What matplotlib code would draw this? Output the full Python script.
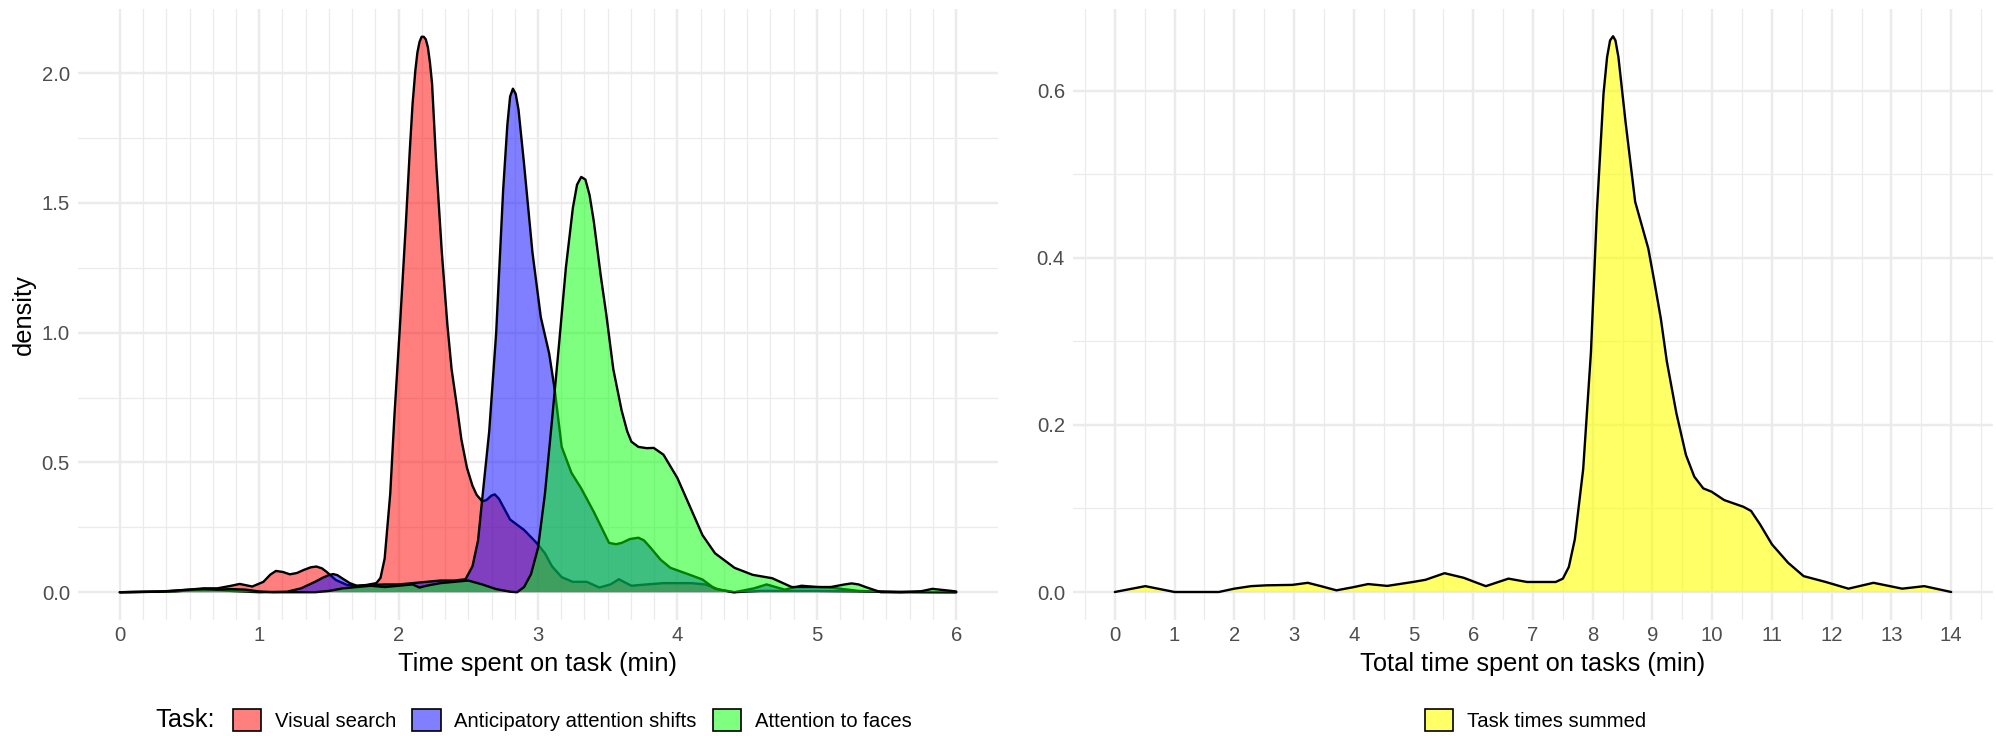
import matplotlib
matplotlib.use("Agg")
import matplotlib.pyplot as plt
from matplotlib.patches import Patch

plt.rcParams['font.family'] = ['Liberation Sans', 'DejaVu Sans']

# ---------------- data ----------------
tasks = ["Visual search", "Anticipatory attention shifts", "Attention to faces"]
task_colors = [(1, 0, 0, 0.5), (0, 0, 1, 0.5), (0, 1, 0, 0.5)]

vs_x = [0, 0.3, 0.5, 0.6, 0.7, 0.8, 0.86, 0.95, 1.03, 1.08, 1.12, 1.17, 1.22, 1.27, 1.32,
        1.37, 1.41, 1.45, 1.48, 1.55, 1.63, 1.70, 1.77, 1.84, 1.87, 1.90, 1.94, 1.97, 2.01,
        2.05, 2.08, 2.10, 2.12, 2.135, 2.15, 2.165, 2.18, 2.195, 2.21, 2.225, 2.24, 2.27,
        2.31, 2.35, 2.38, 2.42, 2.45, 2.49, 2.53, 2.56, 2.60, 2.63, 2.665, 2.69, 2.72,
        2.75, 2.80, 2.90, 2.99, 3.05, 3.10, 3.17, 3.25, 3.35, 3.44, 3.52, 3.58, 3.67, 3.78,
        3.90, 4.00, 4.10, 4.20, 4.30, 4.40, 4.60, 5.00, 5.50, 6.00]
vs_y = [0, 0.003, 0.01, 0.015, 0.015, 0.025, 0.032, 0.022, 0.04, 0.068, 0.082, 0.078,
        0.069, 0.074, 0.086, 0.096, 0.099, 0.092, 0.08, 0.047, 0.028, 0.024, 0.028, 0.035,
        0.055, 0.13, 0.38, 0.68, 1.03, 1.40, 1.70, 1.88, 2.01, 2.08, 2.12, 2.14, 2.14,
        2.13, 2.10, 2.04, 1.96, 1.65, 1.31, 1.03, 0.86, 0.71, 0.59, 0.48, 0.41, 0.375,
        0.35, 0.355, 0.372, 0.377, 0.36, 0.33, 0.28, 0.24, 0.19, 0.15, 0.10, 0.058, 0.04,
        0.04, 0.018, 0.03, 0.05, 0.025, 0.03, 0.035, 0.035, 0.035, 0.03, 0.01, 0.0, 0.005,
        0.005, 0.002, 0.0]

aas_x = [0, 0.4, 0.55, 0.65, 0.8, 1.0, 1.2, 1.3, 1.4, 1.46, 1.5, 1.53, 1.56, 1.6, 1.65,
         1.7, 1.8, 1.9, 2.0, 2.1, 2.2, 2.3, 2.4, 2.48, 2.53, 2.57, 2.60, 2.65, 2.70, 2.75,
         2.78, 2.80, 2.82, 2.84, 2.86, 2.90, 2.96, 3.02, 3.08, 3.12, 3.17, 3.24, 3.31, 3.40,
         3.51, 3.56, 3.60, 3.66, 3.72, 3.76, 3.81, 3.88, 3.95, 4.09, 4.18, 4.27, 4.41, 4.55,
         4.64, 4.77, 4.89, 5.0, 5.1, 5.3, 5.6, 6.0]
aas_y = [0, 0.003, 0.01, 0.012, 0.005, 0.0, 0.002, 0.015, 0.04, 0.057, 0.066, 0.07, 0.066,
         0.052, 0.035, 0.025, 0.028, 0.03, 0.03, 0.035, 0.04, 0.045, 0.045, 0.05, 0.10,
         0.20, 0.36, 0.62, 1.0, 1.55, 1.80, 1.91, 1.94, 1.92, 1.86, 1.65, 1.31, 1.06, 0.92,
         0.78, 0.56, 0.46, 0.40, 0.31, 0.19, 0.185, 0.19, 0.205, 0.21, 0.20, 0.17, 0.125,
         0.094, 0.067, 0.049, 0.013, 0.0, 0.015, 0.03, 0.01, 0.025, 0.02, 0.018, 0.005,
         0.0, 0.0]

af_x = [0, 0.3, 0.5, 0.6, 0.7, 0.8, 0.9, 1.0, 1.1, 1.4, 1.5, 1.6, 1.7, 1.8, 1.9, 2.0, 2.1,
        2.15, 2.2, 2.3, 2.4, 2.5, 2.6, 2.7, 2.8, 2.85, 2.9, 2.95, 3.0, 3.05, 3.1, 3.15, 3.2,
        3.25, 3.28, 3.31, 3.34, 3.37, 3.40, 3.45, 3.49, 3.54, 3.60, 3.64, 3.67, 3.72, 3.78,
        3.83, 3.90, 4.0, 4.09, 4.18, 4.27, 4.41, 4.54, 4.68, 4.82, 4.95, 5.1, 5.2, 5.25,
        5.3, 5.35, 5.46, 5.6, 5.75, 5.83, 5.95, 6.0]
af_y = [0, 0.002, 0.01, 0.012, 0.01, 0.012, 0.01, 0.003, 0.0, 0.0, 0.005, 0.015, 0.02,
        0.025, 0.02, 0.025, 0.03, 0.018, 0.025, 0.035, 0.04, 0.045, 0.03, 0.012, 0.002,
        0.0, 0.02, 0.07, 0.17, 0.38, 0.66, 0.95, 1.25, 1.48, 1.57, 1.60, 1.59, 1.53, 1.43,
        1.22, 1.07, 0.86, 0.70, 0.62, 0.58, 0.56, 0.555, 0.556, 0.53, 0.44, 0.33, 0.22,
        0.15, 0.094, 0.067, 0.054, 0.02, 0.02, 0.02, 0.03, 0.034, 0.03, 0.02, 0.0, 0.0,
        0.004, 0.013, 0.006, 0.003]

sum_label = "Task times summed"
sum_color = (1, 1, 0, 0.6)
sum_x = [0, 0.51, 1.0, 1.48, 1.74, 2.0, 2.28, 2.54, 2.97, 3.23, 3.45, 3.71, 3.98, 4.24, 4.56,
         4.99, 5.2, 5.52, 5.84, 6.21, 6.59, 6.9, 7.38, 7.5, 7.6, 7.7, 7.84, 7.97, 8.07, 8.18,
         8.24, 8.29, 8.34, 8.38, 8.43, 8.55, 8.71, 8.93, 9.03, 9.14, 9.24, 9.4, 9.56, 9.7,
         9.85, 9.99, 10.2, 10.52, 10.65, 10.8, 11.0, 11.27, 11.53, 11.9, 12.28, 12.7, 13.18,
         13.55, 14.0]
sum_y = [0, 0.007, 0.0, 0.0, 0.0, 0.004, 0.007, 0.008, 0.0085, 0.011, 0.007, 0.002, 0.0056,
         0.0095, 0.0073, 0.012, 0.0146, 0.0225, 0.017, 0.007, 0.016, 0.012, 0.012, 0.016,
         0.03, 0.063, 0.147, 0.287, 0.456, 0.596, 0.64, 0.66, 0.665, 0.66, 0.64, 0.562,
         0.467, 0.411, 0.372, 0.327, 0.276, 0.214, 0.164, 0.138, 0.124, 0.12, 0.11, 0.102,
         0.097, 0.081, 0.057, 0.035, 0.019, 0.012, 0.004, 0.011, 0.004, 0.007, 0.0]

left_xticks = [0, 1, 2, 3, 4, 5, 6]
left_yticks = [0.0, 0.5, 1.0, 1.5, 2.0]
right_xticks = list(range(0, 15))
right_yticks = [0.0, 0.2, 0.4, 0.6]

# ---------------- figure ----------------
W, H = 1996, 736
fig = plt.figure(figsize=(W / 100, H / 100), dpi=100)
ax1 = fig.add_axes([78 / W, (H - 620) / H, 920 / W, 611 / H])
ax2 = fig.add_axes([1073 / W, (H - 620) / H, 920 / W, 611 / H])

TICK_FS = 14.6
TITLE_FS = 18.3
GRID = '#EBEBEB'
LW = 1.7


def style(ax, xmaj, xmin, ymaj, ymin, xlim, ylim):
    ax.set_xlim(*xlim)
    ax.set_ylim(*ylim)
    ax.set_xticks(xmaj)
    ax.set_xticks(xmin, minor=True)
    ax.set_yticks(ymaj)
    ax.set_yticks(ymin, minor=True)
    ax.set_yticklabels([f"{v:.1f}" for v in ymaj])
    ax.set_xticklabels([str(v) for v in xmaj])
    ax.grid(which='major', color=GRID, lw=1.75)
    ax.grid(which='minor', color=GRID, lw=0.9)
    ax.set_axisbelow(True)
    for s in ax.spines.values():
        s.set_visible(False)
    ax.tick_params(which='both', length=0, labelsize=TICK_FS, labelcolor='#4D4D4D')
    ax.tick_params(axis='x', pad=4.3)
    ax.tick_params(axis='y', pad=5.8)


left_minor_x = [k / 6 for k in range(0, 37) if k % 6 != 0]
style(ax1, left_xticks, left_minor_x, left_yticks, [0.25, 0.75, 1.25, 1.75],
      (-0.3, 6.3), (-0.107, 2.247))
right_minor_x = [k + 0.5 for k in range(-1, 15)]
style(ax2, right_xticks, right_minor_x, right_yticks, [0.1, 0.3, 0.5],
      (-0.7, 14.7), (-0.0335, 0.6976))

series = [(vs_x, vs_y), (aas_x, aas_y), (af_x, af_y)]
for i, ((xs, ys), col) in enumerate(zip(series, task_colors)):
    ax1.fill_between(xs, ys, 0, facecolor=col, edgecolor='none', lw=0, zorder=2 + i * 0.2)
    ax1.plot(xs, ys, color='black', lw=LW, zorder=2.1 + i * 0.2,
             solid_joinstyle='round', solid_capstyle='round')

ax2.fill_between(sum_x, sum_y, 0, facecolor=sum_color, edgecolor='none', lw=0, zorder=2)
ax2.plot(sum_x, sum_y, color='black', lw=LW, zorder=2.1,
         solid_joinstyle='round', solid_capstyle='round')

ax1.set_xlabel("Time spent on task (min)", fontsize=TITLE_FS, color='black')
ax1.xaxis.set_label_coords(0.5, -(664 - 620) / 611)
ax1.xaxis.label.set_va('center')
ax1.set_ylabel("density", fontsize=TITLE_FS, color='black')
ax1.yaxis.set_label_coords((24 - 78) / 920, 0.5)
ax1.yaxis.label.set_va('center')

ax2.set_xlabel("Total time spent on tasks (min)", fontsize=TITLE_FS, color='black')
ax2.xaxis.set_label_coords(0.5, -(664 - 620) / 611)
ax2.xaxis.label.set_va('center')

# legends
leg_y = 1 - 720 / H
fig.text(155 / W, leg_y, "Task:", fontsize=TITLE_FS, va='center', ha='left')
handles = [Patch(facecolor=c, edgecolor='black', lw=1.2) for c in task_colors]
fig.legend(handles, tasks, loc='center left', bbox_to_anchor=(233 / W, leg_y), ncol=3,
           frameon=False, borderpad=0, borderaxespad=0, handlelength=1.4,
           handleheight=1.35, handletextpad=0.66, columnspacing=0.8, fontsize=TICK_FS)
fig.legend([Patch(facecolor=sum_color, edgecolor='black', lw=1.2)], [sum_label],
           loc='center left', bbox_to_anchor=(1425 / W, leg_y), frameon=False,
           borderpad=0, borderaxespad=0, handlelength=1.4, handleheight=1.35,
           handletextpad=0.66, fontsize=TICK_FS)

fig.savefig("out.png", dpi=100, facecolor='white')
